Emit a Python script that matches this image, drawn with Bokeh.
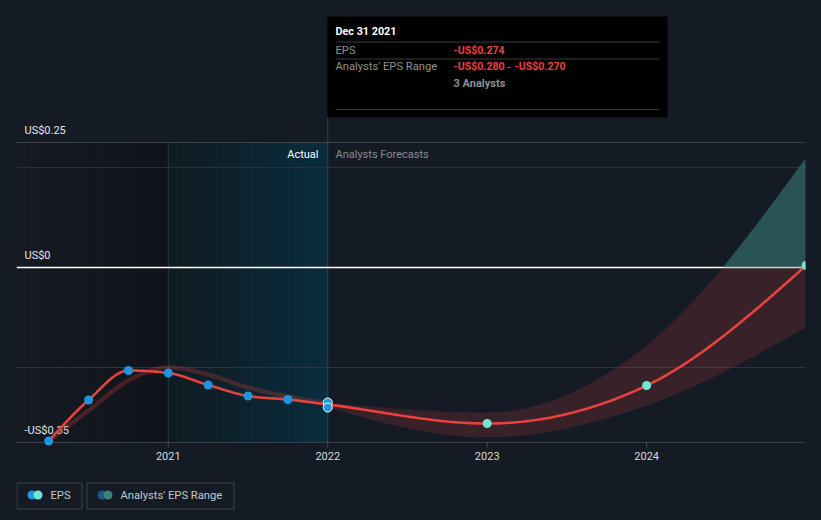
import numpy as np
from bokeh.plotting import figure
from bokeh.models import Range1d, GlobalInlineStyleSheet
from bokeh.core.properties import value
from bokeh.embed import file_html
from bokeh.resources import INLINE

# ---------------- data ----------------
x_ticks = [2021, 2022, 2023, 2024]
x_tick_labels = ["2021", "2022", "2023", "2024"]
y_label_vals = [0.25, 0.0, -0.35]
y_labels = ["US$0.25", "US$0", "-US$0.35"]
grid_vals = [0.25, 0.2, -0.2, -0.35]

actual_x = [2020.25, 2020.5, 2020.75, 2021.0, 2021.25, 2021.5, 2021.75, 2022.0]
actual_eps = [-0.347, -0.265, -0.206, -0.211, -0.235, -0.257, -0.264, -0.274]
past_estimate = [-0.347, -0.286, -0.226, -0.200, -0.214, -0.240, -0.258, -0.272]

forecast_x = [2022.0, 2023.0, 2024.0, 2025.0]
forecast_eps = [-0.274, -0.312, -0.236, 0.004]
range_low = [-0.280, -0.340, -0.276, -0.120]
range_high = [-0.270, -0.290, -0.156, 0.220]

hover_x = 2022.0
hover_vals = [-0.270, -0.280]
actual_start, actual_end = 2021.0, 2022.0

# ---------------- style ----------------
BG = "#151b24"
RED = "#e8423f"
BLUE = "#1f95e0"
TEAL = "#6ee7d5"
FONT = value("Roboto")

# page-pixel helpers for annotation placement
K = 159.45
def X(px):
    return 2021 + (px - 167.8) / K
def Y(py):
    return (267 - py) / 500.0

def monotone(xs, ys, n=60):
    xs = np.asarray(xs, float); ys = np.asarray(ys, float)
    h = np.diff(xs); s = np.diff(ys) / h
    m = np.zeros(len(xs))
    for i in range(1, len(xs) - 1):
        p_ = (s[i - 1] * h[i] + s[i] * h[i - 1]) / (h[i - 1] + h[i])
        m[i] = (np.sign(s[i - 1]) + np.sign(s[i])) * min(abs(s[i - 1]), abs(s[i]), 0.5 * abs(p_))
    if len(xs) > 2:
        m[0] = (3 * s[0] - m[1]) / 2
        m[-1] = (3 * s[-1] - m[-2]) / 2
    else:
        m[0] = m[-1] = s[0]
    ox, oy = [], []
    for i in range(len(xs) - 1):
        t = np.linspace(0, 1, n, endpoint=(i == len(xs) - 2))
        h00 = 2 * t**3 - 3 * t**2 + 1
        h10 = t**3 - 2 * t**2 + t
        h01 = -2 * t**3 + 3 * t**2
        h11 = t**3 - t**2
        ox.extend(xs[i] + t * h[i])
        oy.extend(h00 * ys[i] + h10 * h[i] * m[i] + h01 * ys[i + 1] + h11 * h[i] * m[i + 1])
    return np.array(ox), np.array(oy)

p = figure(width=821, height=520,
           x_range=Range1d(X(16), X(805)), y_range=Range1d(Y(520), Y(0)),
           output_backend="svg", toolbar_location=None,
           x_axis_location=None, y_axis_location=None,
           min_border_left=16, min_border_right=16, min_border_top=0, min_border_bottom=0,
           background_fill_color=BG, border_fill_color=BG, outline_line_color=None)
p.grid.visible = False
p.stylesheets = [GlobalInlineStyleSheet(css="html, body { background-color: #151b24; }")]

top_v, bot_v = grid_vals[0], grid_vals[-1]

def strips(x0, x1, c0, c1, n=48):
    xs = np.linspace(x0, x1, n + 1)[:-1]
    cols = []
    for k in range(n):
        f = k / (n - 1)
        c = [int(round(a + (b - a) * f)) for a, b in zip(c0, c1)]
        cols.append("#%02x%02x%02x" % tuple(c))
    p.quad(left=xs, right=[x1] * n, top=[top_v] * n, bottom=[bot_v] * n,
           fill_color=cols, line_color=None)

# shaded past / actual regions
strips(X(16), actual_start, (21, 26, 35), (17, 20, 26))
strips(actual_start, actual_end, (16, 27, 34), (9, 45, 62))

# region boundaries
p.segment(x0=[actual_start], x1=[actual_start], y0=[bot_v], y1=[top_v], line_color="#173f4d", line_width=1)
p.segment(x0=[actual_end], x1=[actual_end], y0=[bot_v], y1=[Y(117)], line_color="#24495a", line_width=1)

# gridlines
grid_cols = ["#3b4049", "#293039", "#2e343d", "#3b4049"]
p.segment(x0=[X(16)] * 4, x1=[X(805)] * 4, y0=grid_vals, y1=grid_vals, line_color=grid_cols, line_width=1)
# zero line
p.segment(x0=[X(16)], x1=[X(805)], y0=[0], y1=[0], line_color="#ffffff", line_width=1.5)

# x ticks and labels
p.segment(x0=x_ticks, x1=x_ticks, y0=[bot_v] * 4, y1=[Y(447)] * 4, line_color="#4a4f58", line_width=1)
p.text(x=x_ticks, y=[Y(455)] * 4, text=x_tick_labels, text_font=FONT, text_font_size="11px",
       text_color="#d6d8dc", text_align="center", text_baseline="middle")

# y labels (above their lines)
p.text(x=[X(24)] * 3, y=[v + 12 / 500.0 for v in y_label_vals], text=y_labels, text_font=FONT,
       text_font_size="11px", text_color="#e4e6ea", text_align="left", text_baseline="middle")

# Actual / Analysts Forecasts
p.text(x=[X(318)], y=[Y(154)], text=["Actual"], text_font=FONT, text_font_size="11px",
       text_color="#ffffff", text_align="right", text_baseline="middle")
p.text(x=[X(335)], y=[Y(154)], text=["Analysts Forecasts"], text_font=FONT, text_font_size="11px",
       text_color="#868c94", text_align="left", text_baseline="middle")

# analyst range band
bx, blo = monotone(forecast_x, range_low)
_, bhi = monotone(forecast_x, range_high)
p.varea(x=bx, y1=np.maximum(blo, 0), y2=np.maximum(bhi, 0), fill_color="#3d8c86", fill_alpha=0.5)
p.varea(x=bx, y1=np.minimum(blo, 0), y2=np.minimum(bhi, 0), fill_color="#d63c44", fill_alpha=0.18)

# past estimates
px_, py_ = monotone(actual_x, past_estimate)
p.line(px_, py_, line_color="#c43b3d", line_width=4.5, line_alpha=0.3)

# EPS line
all_x = actual_x + forecast_x[1:]
all_y = actual_eps + forecast_eps[1:]
lx, ly = monotone(all_x, all_y)
p.line(lx, ly, line_color=RED, line_width=2.6)

# markers
p.scatter(actual_x[:-1], actual_eps[:-1], size=9, fill_color=BLUE, line_color=None)
p.scatter([hover_x] * len(hover_vals), hover_vals, size=9, fill_color=BLUE, line_color="#ffffff", line_width=1)
p.scatter(forecast_x[1:], forecast_eps[1:], size=9, fill_color=TEAL, line_color=None)

# tooltip
p.quad(left=[X(327)], right=[X(667)], top=[Y(16)], bottom=[Y(117)], fill_color="#000000", line_color=None)
p.segment(x0=[X(335)] * 3, x1=[X(659)] * 3, y0=[Y(41.5), Y(58.5), Y(109)], y1=[Y(41.5), Y(58.5), Y(109)],
          line_color="#3a3a3a", line_width=1)
p.text(x=[X(335)], y=[Y(31)], text=["Dec 31 2021"], text_font=FONT, text_font_size="10.8px",
       text_font_style="bold", text_color="#ffffff", text_baseline="middle")
p.text(x=[X(335), X(335)], y=[Y(49.5), Y(66)], text=["EPS", "Analysts' EPS Range"], text_font=FONT,
       text_font_size="11.2px", text_color="#8f8f8f", text_baseline="middle")
p.text(x=[X(453), X(453), X(514)], y=[Y(49.5), Y(66), Y(66)],
       text=["-US$0.274", "-US$0.280", "-US$0.270"], text_font=FONT, text_font_size="10.6px",
       text_font_style="bold", text_color=RED, text_baseline="middle")
p.text(x=[X(508.5)], y=[Y(66)], text=["-"], text_font=FONT, text_font_size="11px",
       text_color="#8f8f8f", text_baseline="middle", text_align="center")
p.text(x=[X(453)], y=[Y(83)], text=["3 Analysts"], text_font=FONT, text_font_size="11px",
       text_font_style="bold", text_color="#8f8f8f", text_baseline="middle")

# legend
p.quad(left=[X(16.5), X(86.5)], right=[X(81.5), X(233.5)], top=[Y(482.5)] * 2, bottom=[Y(508.5)] * 2,
       fill_color=None, line_color="#3a3f49", line_width=1)
p.scatter([X(31.5), X(101.5)], [Y(494.5)] * 2, size=9, fill_color=[BLUE, "#1c5a82"], line_color=None)
p.scatter([X(37.5), X(107.5)], [Y(494.5)] * 2, size=9, fill_color=[TEAL, "#3e807b"], line_color=None)
p.text(x=[X(50), X(120)], y=[Y(494.5)] * 2, text=["EPS", "Analysts' EPS Range"], text_font=FONT,
       text_font_size="11.2px", text_color="#c4c7cc", text_baseline="middle")

open("out.html", "w").write(file_html(p, INLINE))
